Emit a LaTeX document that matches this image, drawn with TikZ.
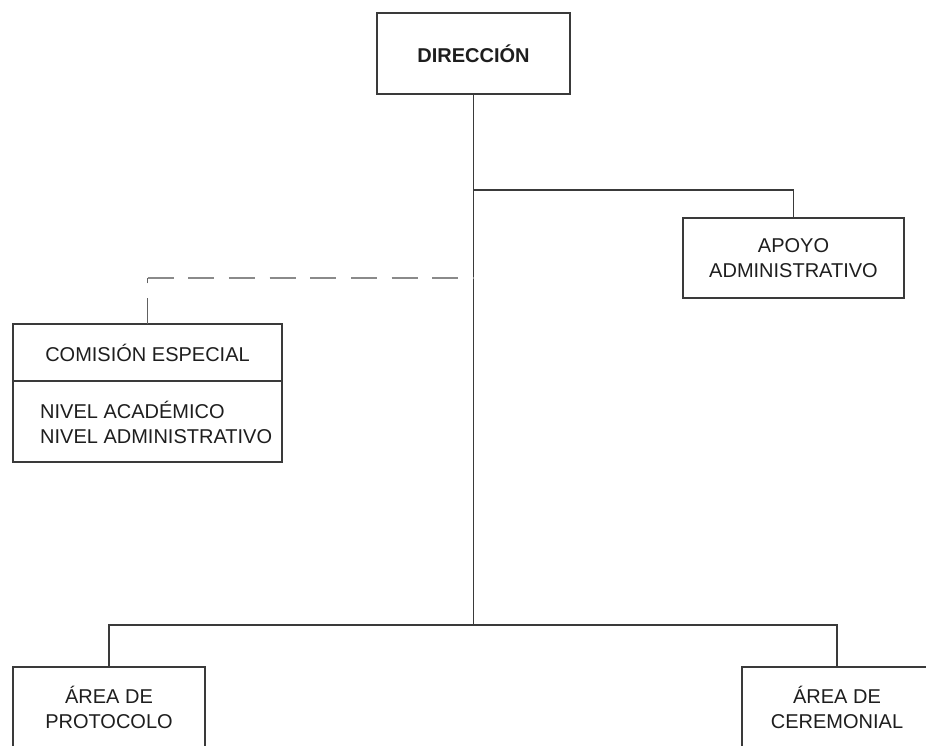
\documentclass[tikz,border=0pt]{standalone}
\usepackage{fontspec}
\setmainfont{Liberation Sans}
\usetikzlibrary{positioning}
\definecolor{ink}{HTML}{1E1E1E}
\definecolor{edge}{HTML}{3A3A3A}
\definecolor{dashgray}{HTML}{8A8A8A}
\tikzset{
  box/.style={draw=edge, line width=1.8pt, fill=white, inner sep=0pt, outer sep=0pt},
  lbl/.style={text=ink, align=center, inner sep=0pt,
    font=\fontsize{20}{25}\selectfont},
  link/.style={draw=edge, line width=1.6pt},
  dashlink/.style={draw=dashgray, line width=1.6pt,
    dash pattern=on 26pt off 14.7pt},
}
\begin{document}
\begin{tikzpicture}[x=1pt, y=-1pt]
  \useasboundingbox (0,0) rectangle (926,746);
  \clip (0,0) rectangle (926,746);
  \fill[white] (0,0) rectangle (926,746);

  % head of the organisation
  \node[box, lbl, minimum width=193pt, minimum height=81pt,
        font=\fontsize{20}{25}\selectfont\bfseries] (dir) at (473.5,53.5) {DIRECCIÓN};

  % staff support unit
  \node[box, lbl, minimum width=221pt, minimum height=80pt] (apoyo) at (793.5,258)
    {APOYO\\ADMINISTRATIVO};

  % special commission: title strip and list of levels
  \node[box, lbl, minimum width=269pt, minimum height=57pt] (comtitle) at (147.5,352.5)
    {COMISIÓN ESPECIAL};
  \node[box, minimum width=269pt, minimum height=81pt, anchor=north] (comlist)
    at (comtitle.south) {};
  \node[lbl, align=left, anchor=north west] (comtext) at (40,400.5)
    {NIVEL ACADÉMICO\\NIVEL ADMINISTRATIVO};

  % operative areas
  \node[box, minimum width=192pt, minimum height=140pt, anchor=north] (proto)
    at (109,667) {};
  \node[lbl, anchor=north] (prototext) at (109,685.5) {ÁREA DE\\PROTOCOLO};
  \node[box, minimum width=190pt, minimum height=140pt, anchor=north] (cere)
    at (837,667) {};
  \node[lbl, anchor=north] (ceretext) at (837,685.5) {ÁREA DE\\CEREMONIAL};

  % junction points on the main trunk
  \coordinate (jA) at (dir.south |- 0,190);
  \coordinate (jC) at (dir.south |- 0,278);
  \coordinate (jB) at (dir.south |- 0,625);
  \coordinate (cC) at (comtitle.north |- jC);

  % connectors
  \draw[link] (dir.south) -- (jB);
  \draw[link] (jA) -| (apoyo.north);
  \draw[link] (proto.north) |- (jB) -| (cere.north);
  \draw[dashlink] (cC) -- (jC);
  \draw[dashlink, draw=edge!80] (comtitle.north) -- (cC);
\end{tikzpicture}
\end{document}
